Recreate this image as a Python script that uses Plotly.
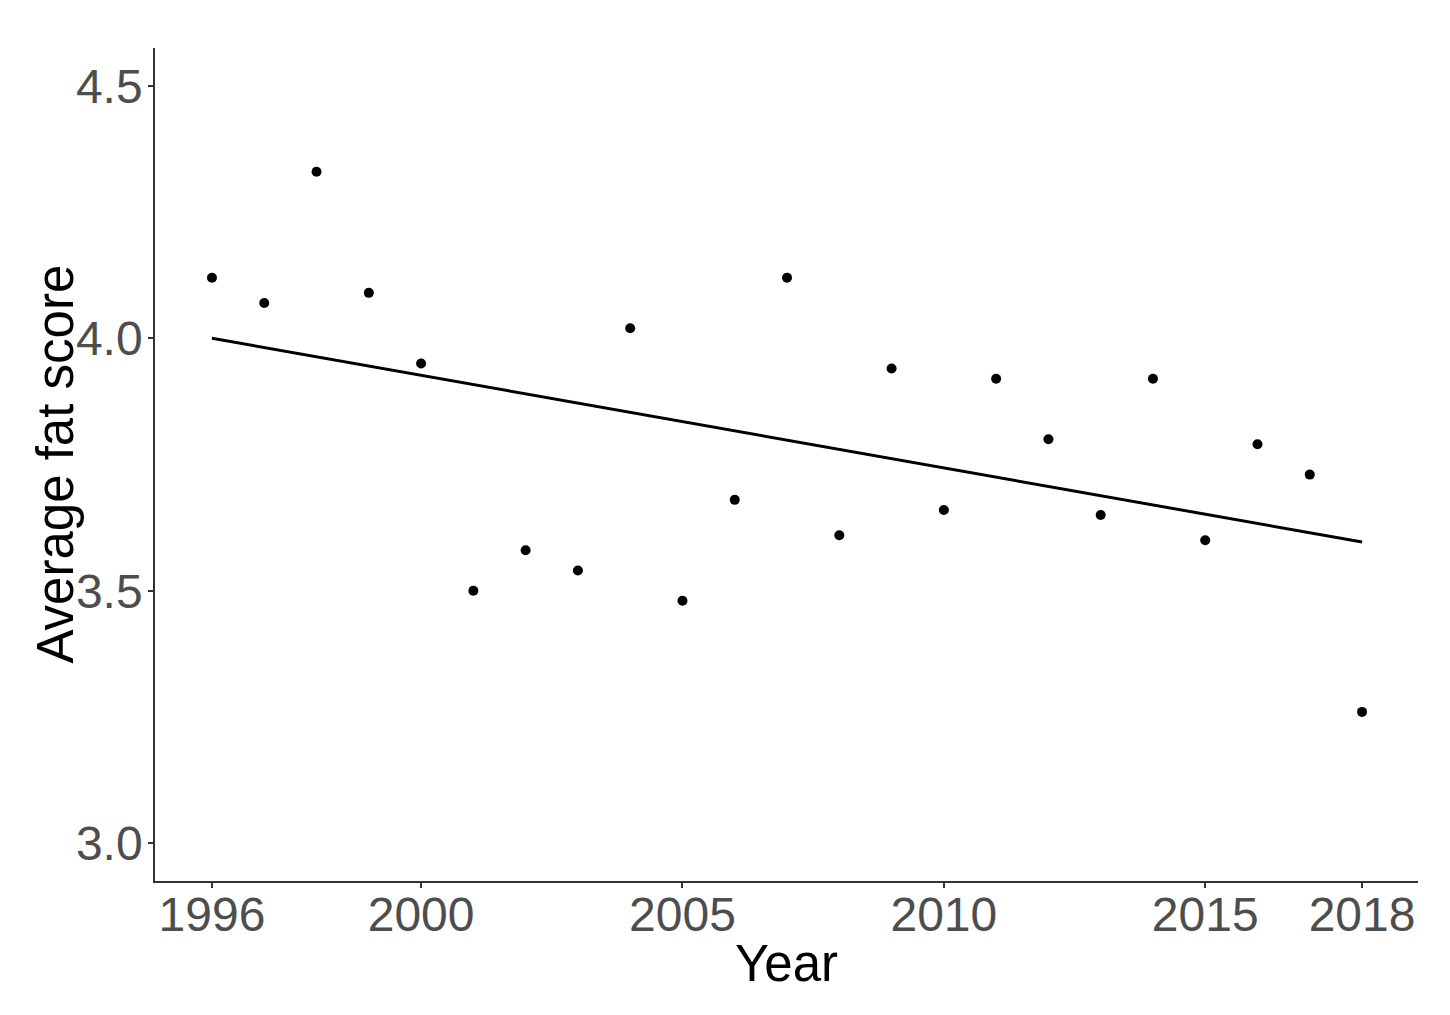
import numpy as np
import plotly.graph_objects as go

# -------- DATA --------
years = list(range(1996, 2019))
fat_score = [4.12, 4.07, 4.33, 4.09, 3.95, 3.50, 3.58, 3.54, 4.02, 3.48, 3.68, 4.12,
             3.61, 3.94, 3.66, 3.92, 3.80, 3.65, 3.92, 3.60, 3.79, 3.73, 3.26]
x_ticks = [1996, 2000, 2005, 2010, 2015, 2018]
y_ticks = [3.0, 3.5, 4.0, 4.5]

# linear trend (like geom_smooth(method="lm", se=FALSE))
slope, intercept = np.polyfit(years, fat_score, 1)
trend = [slope * yr + intercept for yr in years]

fig = go.Figure()

fig.add_trace(go.Scatter(
    x=years, y=trend, mode="lines",
    line=dict(color="black", width=3),
    showlegend=False, hoverinfo="skip"
))

fig.add_trace(go.Scatter(
    x=years, y=fat_score, mode="markers",
    marker=dict(color="black", size=10),
    showlegend=False
))

axis_font = dict(family="Liberation Sans, Arial, sans-serif", size=48, color="#4D4D4D")
title_font = dict(family="Liberation Sans, Arial, sans-serif", size=51, color="black")

# page body has an 8px margin, so the figure is a bit smaller than the window
fig.update_layout(
    width=1434, height=999,
    plot_bgcolor="white", paper_bgcolor="white",
    margin=dict(l=147, r=24, t=40, b=126),
    xaxis=dict(
        range=[1994.91, 2019.07],
        tickvals=x_ticks, ticktext=[str(t) for t in x_ticks],
        showgrid=False, zeroline=False,
        showline=True, linecolor="#333333", linewidth=1.5,
        ticks="outside", ticklen=5, tickcolor="#333333", tickwidth=1.5,
        tickfont=axis_font, ticklabelstandoff=-14,
    ),
    yaxis=dict(
        range=[2.925, 4.575],
        tickvals=y_ticks, ticktext=["3.0", "3.5", "4.0", "4.5"],
        showgrid=False, zeroline=False,
        showline=True, linecolor="#333333", linewidth=1.5,
        ticks="outside", ticklen=5, tickcolor="#333333", tickwidth=1.5,
        tickfont=axis_font, ticklabelstandoff=-4,
    ),
    annotations=[
        dict(text="Year", xref="paper", yref="paper", x=0.5, y=0,
             xanchor="center", yanchor="middle", yshift=-82,
             showarrow=False, font=title_font),
        dict(text="Average fat score", xref="paper", yref="paper", x=0, y=0.5,
             xanchor="center", yanchor="middle", xshift=-100, textangle=-90,
             showarrow=False, font=title_font),
    ],
)

fig.write_html("out.html")
